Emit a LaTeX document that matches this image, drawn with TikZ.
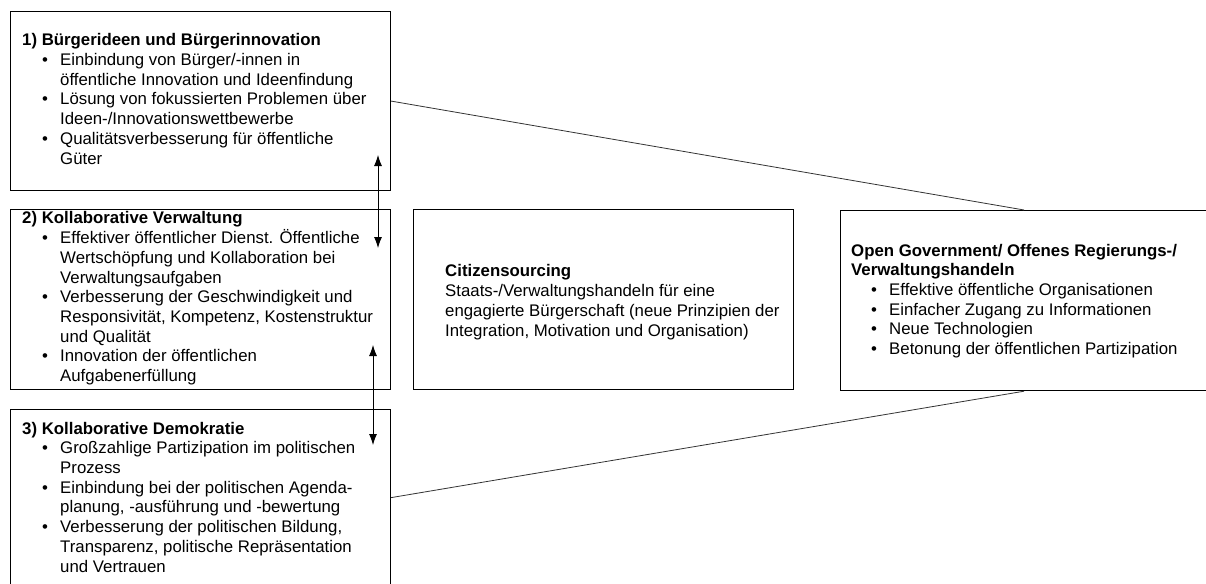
\documentclass[tikz,border=0pt]{standalone}
\usepackage{fontspec}
\setmainfont{Liberation Sans}
\usetikzlibrary{positioning}
\usetikzlibrary{arrows.meta}

\newcommand{\itm}[1]{\hspace*{20pt}\makebox[18pt][l]{\textbullet}#1}
\newcommand{\cnt}[1]{\hspace*{38pt}#1}

\begin{document}
\begin{tikzpicture}[x=1pt,y=-1pt,font=\fontsize{16.8}{19.7}\selectfont,
	box/.style={draw,line width=1.2pt,inner sep=0pt,anchor=north west},
	txt/.style={align=left,inner sep=0pt,anchor=base west},
	link/.style={line width=0.8pt,draw=black!80},
	dbl/.style={<->,>={Latex[length=11pt,width=8pt]},line width=0.8pt}]
	\clip (0,0) rectangle (1206,583);
	% Boxes %
	\node [box,minimum width=380pt,minimum height=179pt] (b1) at (10,11) {};
	\node [box,minimum width=380pt,minimum height=180pt] (b2) at (10,209) {};
	\node [box,minimum width=380pt,minimum height=176pt] (b3) at (10,409) {};
	\node [box,minimum width=380pt,minimum height=180pt] (cs) at (413,209) {};
	\node [box,minimum width=367pt,minimum height=180pt] (og) at (840,210) {};
	% Texts (placed at the baseline of their last line) %
	\node [txt] (t1) at (22,164) {\textbf{1) Bürgerideen und Bürgerinnovation}\\
		\itm{Einbindung von Bürger/-innen in}\\
		\cnt{öffentliche Innovation und Ideenfindung}\\
		\itm{Lösung von fokussierten Problemen über}\\
		\cnt{Ideen-/Innovationswettbewerbe}\\
		\itm{Qualitätsverbesserung für öffentliche}\\
		\cnt{Güter}};
	\node [txt] (t2) at (22,381.5) {\textbf{2) Kollaborative Verwaltung}\\
		\itm{Effektiver öffentlicher Dienst. Öffentliche}\\
		\cnt{Wertschöpfung und Kollaboration bei}\\
		\cnt{Verwaltungsaufgaben}\\
		\itm{Verbesserung der Geschwindigkeit und}\\
		\cnt{Responsivität, Kompetenz, Kostenstruktur}\\
		\cnt{und Qualität}\\
		\itm{Innovation der öffentlichen}\\
		\cnt{Aufgabenerfüllung}};
	\node [txt] (t3) at (22,572) {\textbf{3) Kollaborative Demokratie}\\
		\itm{Großzahlige Partizipation im politischen}\\
		\cnt{Prozess}\\
		\itm{Einbindung bei der politischen Agenda-}\\
		\cnt{planung, -ausführung und -bewertung}\\
		\itm{Verbesserung der politischen Bildung,}\\
		\cnt{Transparenz, politische Repräsentation}\\
		\cnt{und Vertrauen}};
	\node [txt] (tcs) at (445,336) {\textbf{Citizensourcing}\\
		Staats-/Verwaltungshandeln für eine\\
		engagierte Bürgerschaft (neue Prinzipien der\\
		Integration, Motivation und Organisation)};
	\node [txt] (tog) at (851,354.5) {\textbf{Open Government/ Offenes Regierungs-/}\\
		\textbf{Verwaltungshandeln}\\
		\itm{Effektive öffentliche Organisationen}\\
		\itm{Einfacher Zugang zu Informationen}\\
		\itm{Neue Technologien}\\
		\itm{Betonung der öffentlichen Partizipation}};
	% Arrows and Lines %
	\coordinate (a1) at (378,155);
	\coordinate (a2) at (378,248);
	\coordinate (a3) at (373,345);
	\coordinate (a4) at (373,445);
	\draw [dbl] (a1) -- (a2);
	\draw [dbl] (a3) -- (a4);
	\draw [link] (b1.east) -- (og.north);
	\draw [link] (b3.east) -- (og.south);
\end{tikzpicture}
\end{document}
